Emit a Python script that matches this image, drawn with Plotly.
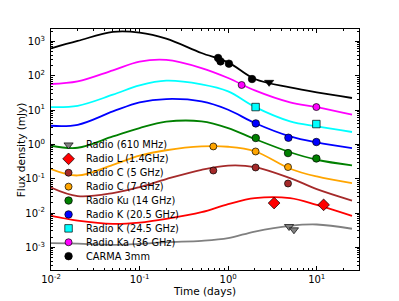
import numpy as np
import plotly.graph_objects as go

# ---------------- data ----------------
t_model = [0.01, 0.02, 0.05, 0.1, 0.2, 0.5, 1, 2, 5, 10, 25]

m_carma = [625, 1028, 1880, 1795, 1200, 459, 244, 80, 45.6, 32.6, 22.4]
m_ka = [57.3, 68.2, 143, 256, 287, 167, 85.7, 37.2, 16.7, 12.2, 7.3]
m_k245 = [12.2, 13.3, 27.9, 52.1, 71.4, 55.7, 34.8, 12.3, 4.66, 3.33, 2.29]
m_k205 = [3.48, 3.72, 9.1, 16.7, 20.9, 17.8, 10.2, 4.18, 1.70, 1.135, 0.78]
m_ku = [0.912, 0.796, 1.70, 2.99, 4.56, 4.66, 2.99, 1.43, 0.589, 0.356, 0.243]
m_c7 = [0.191, 0.124, 0.254, 0.466, 0.673, 0.869, 0.851, 0.630, 0.195, 0.116, 0.0745]
m_c5 = [0.0553, 0.0311, 0.038, 0.0569, 0.0973, 0.1816, 0.241, 0.218, 0.104, 0.0498, 0.0231]
m_l = [0.00828, 0.00604, 0.00484, 0.00528, 0.00678, 0.0106, 0.0182, 0.0272, 0.0272, 0.0173, 0.00828]
m_610 = [0.00132, 0.00129, 0.00118, 0.00126, 0.00142, 0.00155, 0.00185, 0.00289, 0.00424, 0.00462, 0.00348]

t_carma = [0.77, 0.82, 1.02, 1.86]
f_carma = [328, 261, 224, 80]
t_carma_lim = [2.9]
f_carma_lim = [64]
t_ka = [1.42, 9.9]
f_ka = [53.6, 12.2]
t_k245 = [2.04, 9.9]
f_k245 = [12.2, 3.9]
t_k205 = [2.05, 4.79, 9.9]
f_k205 = [4.07, 1.56, 1.17]
t_ku = [2.05, 4.74, 9.9]
f_ku = [1.53, 0.557, 0.388]
t_c7 = [0.68, 2.04, 4.74]
f_c7 = [0.87, 0.62, 0.218]
t_c5 = [0.68, 2.04, 4.74]
f_c5 = [0.173, 0.212, 0.0724]
t_l = [3.3, 11.96]
f_l = [0.0195, 0.0173]
t_610 = [4.87, 5.53]
f_610 = [0.00404, 0.00324]

labels = ["Radio (610 MHz)", "Radio L (1.4GHz)", "Radio C (5 GHz)", "Radio C (7 GHz)",
          "Radio Ku (14 GHz)", "Radio K (20.5 GHz)", "Radio K (24.5 GHz)",
          "Radio Ka (36 GHz)", "CARMA 3mm"]

# ---------------- styles ----------------
colors = ["#808080", "#ff0000", "#a52a2a", "#ffa500", "#008000", "#0000ff", "#00ffff", "#ff00ff", "#000000"]
symbols = ["triangle-down", "diamond", "circle", "circle", "circle", "circle", "square", "circle", "circle"]
msizes = [8, 9, 7, 7, 7.5, 7.5, 7.5, 7, 7.5]
models = [m_610, m_l, m_c5, m_c7, m_ku, m_k205, m_k245, m_ka, m_carma]
obs_t = [t_610, t_l, t_c5, t_c7, t_ku, t_k205, t_k245, t_ka, t_carma]
obs_f = [f_610, f_l, f_c5, f_c7, f_ku, f_k205, f_k245, f_ka, f_carma]

FONT = "DejaVu Sans"
fig = go.Figure()

for i in range(len(labels)):
    fig.add_trace(go.Scatter(x=t_model, y=models[i], mode="lines",
                             line=dict(color=colors[i], width=1.8, shape="spline", smoothing=1.0),
                             showlegend=False, hoverinfo="skip"))
for i in range(len(labels)):
    fig.add_trace(go.Scatter(x=obs_t[i], y=obs_f[i], mode="markers", name=labels[i],
                             marker=dict(color=colors[i], symbol=symbols[i], size=msizes[i],
                                         line=dict(color="black", width=0.7)),
                             showlegend=False))
fig.add_trace(go.Scatter(x=t_carma_lim, y=f_carma_lim, mode="markers",
                         marker=dict(color="black", symbol="triangle-down", size=8,
                                     line=dict(color="black", width=0.7)),
                         showlegend=False))

# manual legend (matplotlib-like compact spacing) on an overlay unit axis
leg_x, leg_tx, leg_y0, leg_dy = 0.057, 0.108, 0.519, 0.0577
for i in range(len(labels)):
    yy = leg_y0 - i * leg_dy
    fig.add_trace(go.Scatter(x=[leg_x], y=[yy], xaxis="x2", yaxis="y2", mode="markers",
                             marker=dict(color=colors[i], symbol=symbols[i], size=msizes[i],
                                         line=dict(color="black", width=0.7)),
                             showlegend=False, hoverinfo="skip"))
    fig.add_annotation(x=leg_tx, y=yy, xref="x2", yref="y2", text=labels[i], showarrow=False,
                       xanchor="left", yanchor="middle",
                       font=dict(family=FONT, size=9.8, color="black"))

# y-axis title placed like matplotlib's
fig.add_annotation(x=-0.098, y=0.5, xref="paper", yref="paper", text="Flux density (mJy)",
                   textangle=-90, showarrow=False, xanchor="center", yanchor="middle",
                   font=dict(family=FONT, size=10.5, color="black"))

def minor_vals(lo, hi):
    return [m * 10.0 ** k for k in range(lo, hi) for m in range(2, 10)]

axis_common = dict(type="log", showgrid=False, zeroline=False, showline=True, linecolor="black",
                   linewidth=1, mirror="allticks", ticks="inside", ticklen=4, tickcolor="black",
                   automargin=False,
                   tickfont=dict(family=FONT, size=10, color="black"))

fig.update_layout(
    width=399, height=301,
    margin=dict(l=51, r=40, t=29, b=31, autoexpand=False),
    paper_bgcolor="white", plot_bgcolor="white",
    font=dict(family=FONT, color="black"),
    xaxis=dict(**axis_common, range=[-2, np.log10(30)],
               tickvals=[0.01, 0.1, 1, 10],
               ticktext=["10<sup>-2</sup>", "10<sup>-1</sup>", "10<sup>0</sup>", "10<sup>1</sup>"],
               minor=dict(tickmode="array", tickvals=minor_vals(-2, 2), ticks="inside",
                          ticklen=2, tickcolor="black", showgrid=False),
               title=dict(text="Time (days)", font=dict(family=FONT, size=10.5), standoff=2)),
    yaxis=dict(**axis_common, range=[-3.66, 3.36],
               tickvals=[1e-3, 1e-2, 1e-1, 1, 10, 100, 1000],
               ticktext=["10<sup>-3</sup>", "10<sup>-2</sup>", "10<sup>-1</sup>", "10<sup>0</sup>",
                         "10<sup>1</sup>", "10<sup>2</sup>", "10<sup>3</sup>"],
               ticklabelstandoff=3,
               minor=dict(tickmode="array", tickvals=minor_vals(-4, 4), ticks="inside",
                          ticklen=2, tickcolor="black", showgrid=False)),
    xaxis2=dict(overlaying="x", anchor="y2", range=[0, 1], visible=False, fixedrange=True, automargin=False),
    yaxis2=dict(overlaying="y", anchor="x2", range=[0, 1], visible=False, fixedrange=True, automargin=False),
    showlegend=False,
)

fig.write_html("out.html", config={"displayModeBar": False},
               post_script="document.body.style.margin='0px';")
